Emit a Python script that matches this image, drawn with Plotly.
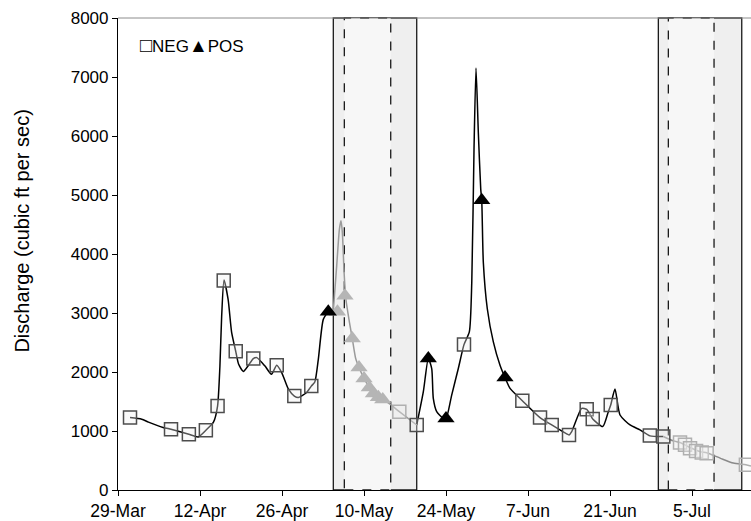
import numpy as np
import pandas as pd
import plotly.graph_objects as go

START = "2013-03-29"

# ---- discharge line (days after START, cfs) ----
line1_days = [2.05, 4.05, 5.2, 7.7, 9.05, 10.9, 12.1, 13.7, 15.0, 16.3, 17.0, 17.4, 17.7, 18.1,
              18.8, 19.4, 20.1, 20.6, 21.4, 22.25, 23.1, 23.7, 25.1, 26.2, 27.1, 27.95, 29.1,
              30.1, 30.8, 32.2, 33.0, 33.6, 34.2, 35.05, 35.9, 36.76]
line1_vals = [1227, 1200, 1150, 1060, 1030, 980, 945, 900, 1013, 1150, 1423, 2102, 2950, 3560,
              3230, 2672, 2351, 2130, 2010, 2110, 2228, 2244, 2100, 1962, 2115, 1990, 1708,
              1592, 1568, 1652, 1761, 1830, 2215, 2892, 3020, 3038]

grey1_days = [36.76, 37.34, 37.8, 38.07, 38.3, 38.6, 38.9, 39.5, 40.0, 40.58, 41.15, 42.0, 42.9,
              43.6, 44.45, 45.2, 46.5, 48.03, 51.0]
grey1_vals = [3038, 3803, 4423, 4563, 4367, 3692, 3241, 2850, 2566, 2228, 2076, 1890, 1739,
              1637, 1570, 1536, 1450, 1328, 1102]

line2_days = [51.0, 52.13, 52.98, 53.56, 53.83, 54.41, 55.54, 56.0, 56.97, 58.1, 59.07, 59.98,
              60.4, 60.78, 61.12, 61.52, 61.93, 62.1, 62.37, 63.05, 64.08, 65.22, 66.07, 66.93,
              69.03, 72.05, 74.05, 76.6, 77.0, 77.46, 79.17, 80.02, 80.88, 81.05, 82.76, 83.71,
              84.12, 84.85, 85.71, 87.42, 89.12, 90.83, 93.1]
line2_vals = [1102, 1666, 2230, 2059, 1553, 1328, 1215, 1210, 1609, 2059, 2464, 2679,
              3523, 5773, 7152, 6055, 5100, 4912, 3860, 3072, 2510, 2115, 1907, 1722,
              1514, 1227, 1102, 950, 933, 991, 1384, 1367, 1230, 1204, 1075, 1328,
              1440, 1710, 1271, 1102, 1018, 917, 906]

grey2_days = [93.1, 94.8, 95.95, 96.8, 97.66, 98.69, 99.66, 100.5, 102.8, 105.05, 107.2, 108.07]
grey2_vals = [906, 832, 805, 765, 720, 675, 645, 630, 540, 456, 427, 405]

# ---- sample markers ----
neg_days = [2.05, 9.05, 12.1, 15.0, 17.0, 18.05, 20.1, 23.1, 27.1, 30.1, 33.0,
            51.0, 59.07, 69.03, 72.05, 74.05, 77.0, 80.02, 81.05, 84.12, 90.8, 93.1]
neg_vals = [1227, 1030, 945, 1013, 1423, 3550, 2351, 2228, 2115, 1592, 1761,
            1102, 2464, 1514, 1227, 1102, 933, 1367, 1204, 1440, 925, 906]

pos_days = [35.9, 52.98, 56.0, 62.1, 66.07]
pos_vals = [3020, 2230, 1210, 4912, 1907]

neg_grey_days = [48.03, 95.95, 96.8, 97.66, 98.69, 99.66, 100.5, 107.2]
neg_grey_vals = [1328, 805, 765, 709, 663, 636, 625, 427]

pos_grey_days = [37.47, 38.75, 40.0, 41.15, 42.0, 42.9, 43.6, 44.45, 45.2]
pos_grey_vals = [3021, 3291, 2566, 2076, 1890, 1739, 1637, 1570, 1536]

# ---- shaded windows (days after START) ----
windows_outer = [(36.76, 51.0), (92.25, 106.49)]
windows_inner = [(38.64, 46.56), (93.96, 101.76)]

X_END_DAY = 108.07
TICK_DAYS = [0, 14, 28, 42, 56, 70, 84, 98]
TICK_LABELS = ["29-Mar", "12-Apr", "26-Apr", "10-May", "24-May", "7-Jun", "21-Jun", "5-Jul"]
Y_TICKS = [0, 1000, 2000, 3000, 4000, 5000, 6000, 7000, 8000]

t0 = pd.Timestamp(START)


def to_dates(days):
    return [t0 + pd.to_timedelta(d, unit="D") for d in days]


FONT = "Liberation Sans, Arial, sans-serif"
fig = go.Figure()

for a, b in windows_outer:
    fig.add_shape(type="rect", xref="x", yref="paper", x0=to_dates([a])[0], x1=to_dates([b])[0],
                  y0=0, y1=1, fillcolor="#efefef", line=dict(color="#1a1a1a", width=1.3),
                  layer="below")
for a, b in windows_inner:
    fig.add_shape(type="rect", xref="x", yref="paper", x0=to_dates([a])[0], x1=to_dates([b])[0],
                  y0=0, y1=1, fillcolor="#f7f7f7", line=dict(color="#1a1a1a", width=1.3, dash="dash"),
                  layer="below")
fig.add_shape(type="line", xref="paper", yref="paper", x0=0, x1=1, y0=1, y1=1,
              line=dict(color="#8c8c8c", width=1))

fig.add_trace(go.Scatter(x=to_dates(line1_days), y=line1_vals, mode="lines",
                         line=dict(color="black", width=1.5, shape="spline", smoothing=0.6)))
fig.add_trace(go.Scatter(x=to_dates(line2_days), y=line2_vals, mode="lines",
                         line=dict(color="black", width=1.5, shape="spline", smoothing=0.6)))
fig.add_trace(go.Scatter(x=to_dates(grey1_days), y=grey1_vals, mode="lines",
                         line=dict(color="#9a9a9a", width=1.5, shape="spline", smoothing=0.6)))
fig.add_trace(go.Scatter(x=to_dates(grey2_days), y=grey2_vals, mode="lines",
                         line=dict(color="#8a8a8a", width=1.5, shape="spline", smoothing=0.6)))

fig.add_trace(go.Scatter(x=to_dates(neg_grey_days), y=neg_grey_vals, mode="markers",
                         marker=dict(symbol="square", size=13, color="rgba(240,240,240,0.35)",
                                     line=dict(color="#b0b0b0", width=1.5))))
fig.add_trace(go.Scatter(x=to_dates(pos_grey_days), y=pos_grey_vals, mode="markers",
                         marker=dict(symbol="triangle-up", size=15, color="#b5b5b5",
                                     line=dict(width=0))))
fig.add_trace(go.Scatter(x=to_dates(neg_days), y=neg_vals, mode="markers",
                         marker=dict(symbol="square", size=13, color="rgba(240,240,240,0.35)",
                                     line=dict(color="#4d4d4d", width=1.5))))
fig.add_trace(go.Scatter(x=to_dates(pos_days), y=pos_vals, mode="markers",
                         marker=dict(symbol="triangle-up", size=15, color="black",
                                     line=dict(width=0))))

fig.add_annotation(text="<span style='font-size:20px'>□</span>NEG<span style='font-size:19px'>▲</span>POS",
                   xref="paper", yref="paper", x=(138 - 118) / 633, y=(492 - 45) / 474,
                   xanchor="left", yanchor="middle", showarrow=False,
                   font=dict(family=FONT, size=17, color="black"))
fig.add_annotation(text="Discharge (cubic ft per sec)", xref="paper", yref="paper",
                   x=(22.5 - 118) / 633, y=(492 - 232) / 474, textangle=-90,
                   xanchor="center", yanchor="middle", showarrow=False,
                   font=dict(family=FONT, size=20, color="black"))

fig.update_layout(
    width=751, height=521,
    margin=dict(l=118, r=0, t=18, b=29),
    plot_bgcolor="white", paper_bgcolor="white",
    showlegend=False,
    font=dict(family=FONT, color="black"),
    xaxis=dict(type="date", range=to_dates([0, X_END_DAY]),
               tickvals=to_dates(TICK_DAYS), ticktext=TICK_LABELS,
               ticks="outside", ticklen=5, tickcolor="black", tickwidth=1,
               showline=True, linecolor="black", linewidth=1.2, showgrid=False, zeroline=False,
               tickfont=dict(family=FONT, size=17.5, color="black")),
    yaxis=dict(range=[0, 8000], tickvals=Y_TICKS,
               ticks="outside", ticklen=5, tickcolor="black", tickwidth=1,
               showline=True, linecolor="black", linewidth=1.2, showgrid=False, zeroline=False,
               tickfont=dict(family=FONT, size=17, color="black")),
)

fig.write_html("out.html")
